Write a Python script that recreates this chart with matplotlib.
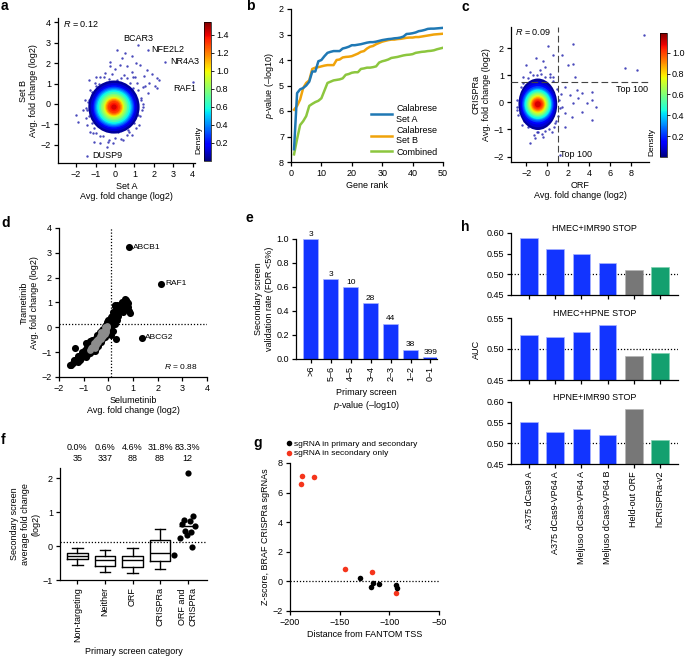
import numpy as np
import matplotlib
matplotlib.use("Agg")
import matplotlib.pyplot as plt
from matplotlib.patches import Ellipse
from matplotlib.cm import ScalarMappable
from matplotlib.colors import Normalize

plt.rcParams['font.family'] = ['Liberation Sans', 'DejaVu Sans']
plt.rcParams['font.size'] = 6.5
plt.rcParams['mathtext.fontset'] = 'custom'
plt.rcParams['mathtext.it'] = 'Liberation Sans:italic'
plt.rcParams['mathtext.rm'] = 'Liberation Sans'
plt.rcParams['axes.linewidth'] = 0.9
plt.rcParams['xtick.major.width'] = 0.9
plt.rcParams['ytick.major.width'] = 0.9
plt.rcParams['xtick.major.size'] = 3
plt.rcParams['ytick.major.size'] = 3
plt.rcParams['xtick.major.pad'] = 2
plt.rcParams['ytick.major.pad'] = 2
plt.rcParams['axes.labelpad'] = 2

# ---------------- data ----------------
# a: Set A vs Set B (sparse points + density core rings)
a_x = [0.12, 0.51, -0.26, 0.34, 0.86, 1.08, 1.29, 1.63, 1.49, 1.89, 2.14, 2.28, 2.06, 2.14, 1.77,
       1.46, 1.72, 1.32, 1.46, 1.2, 1.25, 0.86, 0.43, -0.09, -0.34, -0.77, -1.11, -1.29, -1.42, -1.49,
       -1.89, -2.0, -1.42, -1.32, -1.29, -1.03, -0.77, -0.51, -0.26, 0.0, 0.26, 0.6, 0.86, 1.03, 1.11,
       -0.77, -1.08, -0.43, 0.17, 0.69, -1.32, -1.66, -0.98, 0.94, -1.54, 0.6, 0.09,
       1.35, 1.3, 1.1, 0.6, 0.0, -0.6, -1.1, -1.35, -1.4, -1.2, -0.8, -0.3, 0.3, 0.8, 1.2,
       1.0, -0.95, -1.5, 0.45, -0.55, 1.45, 0.3, -0.3, 1.55, 0.95, -1.2, -1.0, 0.7, 1.4, -0.15,
       1.2, 1.68, 2.6, 4.0, -1.42]
a_y = [2.62, 2.49, 2.08, 2.25, 2.33, 2.03, 1.92, 1.67, 1.38, 1.48, 1.26, 1.18, 0.89, 0.77, 1.05,
       0.82, 0.52, 0.2, -0.13, -0.54, -1.03, -1.52, -1.77, -1.9, -1.85, -1.57, -1.44, -1.36, -1.03, -0.7,
       -0.87, -0.54, -0.3, 0.2, 0.69, 1.02, 1.31, 1.51, 1.84, 1.7, 1.92, 1.84, 1.59, 1.34, 1.02,
       -1.93, -1.85, -2.1, -1.36, -1.28, 1.18, -0.3, 1.34, 0.77, 0.2, 1.26, 1.18,
       0.3, -0.6, -1.2, -1.5, -1.65, -1.55, -1.2, -0.6, 0.1, 0.6, 1.0, 1.2, 1.25, 1.05, 0.7,
       -0.95, -1.4, -0.2, 1.4, 1.3, 0.0, -1.7, -1.75, 0.9, 1.3, -0.95, 0.9, -1.35, -0.3, 1.45,
       2.87, 2.62, 2.05, 1.07, -2.56]
a_genes = ['BCAR3', 'NFE2L2', 'NR4A3', 'RAF1', 'DUSP9']
a_center = (-0.05, -0.15)
a_levels = [0.04, 0.12, 0.2, 0.3, 0.38, 0.47, 0.57, 0.67, 0.77, 0.86, 0.95, 1.05, 1.15, 1.23, 1.3, 1.36, 1.42]
a_rx = [1.32, 1.2, 1.1, 1.04, 0.98, 0.92, 0.86, 0.77, 0.68, 0.6, 0.52, 0.47, 0.42, 0.36, 0.31, 0.22, 0.14]
a_ry = [1.30, 1.18, 1.08, 1.0, 0.94, 0.88, 0.82, 0.74, 0.65, 0.58, 0.5, 0.45, 0.4, 0.35, 0.3, 0.21, 0.13]

# b: top-50 gene p-values
rank = list(range(1, 51))
set_a = [7.5, 5.3, 5.15, 5.1, 5.0, 4.85, 4.45, 4.45, 4.05, 4.0, 3.85, 3.72, 3.68, 3.65, 3.65, 3.65,
         3.55, 3.52, 3.48, 3.42, 3.42, 3.4, 3.38, 3.35, 3.32, 3.3, 3.3, 3.28, 3.25, 3.22, 3.2, 3.18,
         3.17, 3.15, 3.14, 3.12, 3.08, 2.98, 2.97, 2.95, 2.92, 2.87, 2.85, 2.82, 2.78, 2.77, 2.77,
         2.76, 2.75, 2.74]
set_b = [5.95, 5.8, 5.55, 5.1, 4.9, 4.8, 4.35, 4.3, 4.28, 4.25, 4.22, 4.2, 4.2, 4.2, 4.0, 3.98,
         3.9, 3.88, 3.87, 3.85, 3.8, 3.75, 3.68, 3.65, 3.55, 3.48, 3.45, 3.38, 3.33, 3.28, 3.25, 3.22,
         3.2, 3.2, 3.18, 3.17, 3.15, 3.13, 3.12, 3.12, 3.1, 3.1, 3.08, 3.06, 3.04, 3.02, 3.0, 2.99,
         2.98, 2.97]
combined = [7.7, 7.1, 6.55, 6.4, 6.2, 5.8, 5.72, 5.65, 5.6, 5.5, 5.2, 4.9, 4.85, 4.8, 4.78, 4.76,
            4.72, 4.58, 4.55, 4.5, 4.48, 4.48, 4.35, 4.33, 4.3, 4.3, 4.28, 4.25, 4.1, 4.05, 4.02, 3.98,
            3.92, 3.9, 3.88, 3.85, 3.82, 3.8, 3.79, 3.77, 3.72, 3.7, 3.68, 3.67, 3.65, 3.64, 3.62, 3.58,
            3.55, 3.52]

# c: ORF vs CRISPRa
c_x = [0.1, 2.48, 1.37, 2.0, 2.48, 0.51, -0.38, -1.08, -2.03, 7.4, 8.6, 2.63, 1.68, 2.79, 3.27,
       4.29, 4.22, 4.63, 3.75, 2.48, 2.95, 2.16, 3.27, 4.22, 2.32, 1.68, 1.37, 0.57, -0.7, -1.65,
       -2.29, 0.25, -0.22, 9.25, 1.2, 1.68, -1.65, -1.17, -0.86, -2.44, -2.76, -2.92, -2.44, -1.97,
       -0.38, 0.41, 0.73,
       1.1, 1.0, 0.6, -0.2, -1.0, -1.8, -2.6, -2.85, -2.5, -1.8, -1.0, -0.2, 0.5, 0.9, 1.2, -2.2,
       -0.5, 0.2, -1.4, -2.9, 0.3, -0.6, 1.3, -2.3, -1.3, 0.8]
c_y = [2.07, 2.14, 1.74, 1.37, 1.41, 1.74, 1.53, 1.65, 1.37, 1.27, 1.21, 0.94, 0.55, 0.45, 0.35,
       0.39, 0.09, -0.16, -0.01, -0.04, 0.15, 0.27, -0.34, -0.65, -0.53, -0.4, -0.16, 0.94, 1.19, 1.13,
       0.94, 1.06, 1.31, 2.5, -1.96, -0.9, -1.5, -1.32, -1.08, -0.83, -0.47, -0.16, 0.21, 0.51,
       -1.26, -1.08, -0.77,
       0.1, -0.5, -0.9, -1.05, -1.1, -0.9, -0.4, 0.1, 0.55, 0.9, 1.0, 0.95, 0.8, 0.5, -0.2, -0.7,
       -1.15, -1.0, 1.0, -0.3, 0.95, 1.05, 0.3, 0.7, -1.2, -0.7]
c_center = (-0.9, -0.07)
c_levels = [0.03, 0.09, 0.15, 0.23, 0.29, 0.36, 0.44, 0.52, 0.6, 0.66, 0.73, 0.81, 0.89, 0.95, 1.0, 1.05, 1.1]
c_rx = [1.85, 1.72, 1.6, 1.5, 1.4, 1.32, 1.25, 1.12, 1.0, 0.9, 0.8, 0.72, 0.64, 0.56, 0.48, 0.38, 0.28]
c_ry = [0.95, 0.85, 0.75, 0.67, 0.61, 0.57, 0.54, 0.48, 0.43, 0.39, 0.34, 0.3, 0.26, 0.22, 0.19, 0.15, 0.11]

# d: Selumetinib vs Trametinib
d_x = [-1.56, -1.45, -1.38, -1.36, -1.3, -1.25, -1.2, -1.15, -1.1, -1.05, -1.0, -0.95, -0.92, -0.88,
       -0.85, -0.8, -0.78, -0.75, -0.7, -0.65, -0.6, -0.55, -0.5, -0.45, -0.4, -0.35, -0.3, -0.25,
       -0.2, -0.15, -0.1, -0.05, 0.0, 0.05, 0.1, 0.12, 0.15, 0.2, 0.22, 0.25, 0.3, 0.3, 0.35, 0.4,
       0.45, 0.5, 0.55, 0.6, 0.65, 0.68, 0.72, 0.8, 0.82, 0.89, 0.35, 0.2, 0.1, -0.55, -0.9,
       -1.5, -1.4, -1.25, -1.15, -1.05, -0.95, -0.9, -0.85, -0.8, -0.75, -0.7, -0.65, -0.6, -0.55,
       -0.5, -0.45, -0.4, -0.35, -0.3, -0.25, -0.2, -0.15, -0.1, -0.05, 0.0, 0.05, 0.1, 0.15, 0.2,
       0.25, 0.3, 0.28, 0.4, 0.5, 0.55, 0.6, 0.7, 0.75, 0.8,
       0.85, 2.15, 1.38]
d_y = [-1.52, -1.45, -1.35, -0.85, -1.3, -1.4, -1.2, -1.15, -1.25, -1.0, -1.1, -0.9, -1.2, -0.8,
       -1.0, -0.75, -0.95, -0.55, -0.85, -0.5, -0.7, -0.45, -0.6, -0.3, -0.5, -0.2, -0.35, -0.1,
       -0.25, 0.05, -0.05, 0.2, 0.15, 0.25, 0.0, 0.3, 0.45, 0.6, 0.2, 0.85, 0.5, 0.75, 0.9, 0.65,
       0.6, 0.95, 0.8, 0.6, 0.9, 1.13, 1.1, 0.97, 0.65, 0.56, 0.3, -0.15, -0.3, -0.95, -0.65,
       -1.5, -1.3, -1.15, -1.3, -1.15, -1.05, -0.9, -1.1, -0.85, -1.05, -0.6, -0.95, -0.5, -0.6,
       -0.85, -0.4, -0.75, -0.3, -0.6, -0.45, -0.05, -0.4, 0.1, -0.2, 0.3, 0.1, 0.4, 0.2, 0.35,
       0.15, -0.45, 0.9, 0.45, 0.7, 1.0, 0.85, 0.75, 1.0, 0.8,
       3.22, 1.75, -0.42]
d_gx = [-0.75, -0.65, -0.6, -0.5, -0.45, -0.4, -0.35, -0.3, -0.25, -0.2, -0.15, -0.1, -0.07, -0.55,
        -0.3, -0.12, -0.7, -0.6, -0.5, -0.4, -0.3, -0.2, -0.1, -0.05, -0.45, -0.25, -0.15, -0.55]
d_gy = [-0.92, -0.8, -0.65, -0.7, -0.5, -0.6, -0.35, -0.45, -0.25, -0.35, -0.1, -0.2, 0.05, -0.85,
        -0.2, 0.0, -0.85, -0.75, -0.55, -0.45, -0.3, -0.2, -0.1, 0.0, -0.65, -0.4, -0.25, -0.75]
d_genes = ['ABCB1', 'RAF1', 'ABCG2']

# e: validation rate
e_cats = ['>6', '5\u20136', '4\u20135', '3\u20134', '2\u20133', '1\u20132', '0\u20131']
e_rate = [1.0, 0.667, 0.6, 0.464, 0.295, 0.079, 0.013]
e_n = [3, 3, 10, 28, 44, 38, 399]

# f: secondary screen fold change
f_cats = ['Non-targeting', 'Neither', 'ORF', 'CRISPRa', 'ORF and\nCRISPRa']
f_pct = ['0.0%', '0.6%', '4.6%', '31.8%', '83.3%']
f_n = [35, 337, 88, 88, 12]
f_lo = [-0.56, -0.77, -0.8, -0.68]
f_q1 = [-0.38, -0.59, -0.61, -0.44]
f_med = [-0.29, -0.41, -0.41, -0.19]
f_q3 = [-0.2, -0.29, -0.28, 0.18]
f_hi = [-0.07, -0.12, -0.07, 0.5]
f_both = [2.16, 0.88, 0.78, 0.75, 0.66, 0.6, 0.45, 0.4, 0.32, 0.25, -0.04, -0.26]

# g: BRAF sgRNAs
g_both_x = [-129.1, -118.4, -116.4, -110.4, -93.0, -92.0]
g_both_y = [0.2, -0.38, -0.14, -0.2, -0.25, -0.45]
g_sec_x = [-189.0, -187.6, -175.6, -144.8, -117.4, -93.6]
g_sec_y = [6.6, 7.14, 7.05, 0.84, 0.63, -0.77]

# h: AUC
h_cats = ['A375 dCas9 A', 'A375 dCas9-VP64 A', 'Meljuso dCas9-VP64 A',
          'Meljuso dCas9-VP64 B', 'Held-out ORF', 'hCRISPRa-v2']
h_titles = ['HMEC+IMR90 STOP', 'HMEC+HPNE STOP', 'HPNE+IMR90 STOP']
h_auc = [[0.588, 0.561, 0.55, 0.528, 0.511, 0.518],
         [0.5225, 0.519, 0.527, 0.539, 0.489, 0.494],
         [0.551, 0.528, 0.535, 0.521, 0.582, 0.507]]

# ---------------- figure ----------------
W, H = 685, 666
fig = plt.figure(figsize=(6.85, 6.66), dpi=100)


def add_ax(l, t, r, b):
    ax = fig.add_axes([l / W, 1 - b / H, (r - l) / W, (b - t) / H])
    ax.spines['top'].set_visible(False)
    ax.spines['right'].set_visible(False)
    return ax


def letter(x, y, s):
    fig.text(x / W, 1 - y / H, s, fontsize=10, fontweight='bold', ha='left', va='center')


jet = plt.get_cmap('jet')
dot_blue = '#2a2ab0'

# --- a ---
ax = add_ax(58, 18, 195, 163)
norm_a = Normalize(0, 1.54)
ax.scatter(a_x, a_y, s=3, color=dot_blue, alpha=0.85, lw=0, zorder=2)
for lev, rx, ry in zip(a_levels, a_rx, a_ry):
    ax.add_patch(Ellipse(a_center, 2 * rx, 2 * ry, angle=0, color=jet(norm_a(lev)), lw=0, zorder=3))
ax.set_xlim(-2.93, 4.12)
ax.set_ylim(-2.89, 4.21)
ax.set_xticks(range(-2, 5))
ax.set_yticks(range(-2, 5))
ax.set_xticklabels(['\u22122', '\u22121', '0', '1', '2', '3', '4'])
ax.set_yticklabels(['\u22122', '\u22121', '0', '1', '2', '3', '4'])
ax.set_xlabel('Set A\nAvg. fold change (log2)')
ax.set_ylabel('Set B\nAvg. fold change (log2)')
ax.text(-2.65, 3.9, '$\\it{R}$ = 0.12', va='center')
ax.text(1.22, 3.0, a_genes[0], ha='center', va='bottom')
ax.text(1.89, 2.67, a_genes[1], ha='left', va='center')
ax.text(2.83, 2.06, a_genes[2], ha='left', va='center')
ax.text(3.57, 0.75, a_genes[3], ha='center', va='center')
ax.text(-1.17, -2.52, a_genes[4], ha='left', va='center')
cax = fig.add_axes([204 / W, 1 - 161 / H, 7 / W, 139 / H])
cb = fig.colorbar(ScalarMappable(norm_a, jet), cax=cax)
cb.set_ticks([0.2, 0.4, 0.6, 0.8, 1.0, 1.2, 1.4])
cb.outline.set_linewidth(0.5)
cax.tick_params(length=2, width=0.6, pad=1.5)
fig.text(198.5 / W, 1 - 140 / H, 'Density', rotation=90, ha='center', va='center', fontsize=6)
letter(1, 6, 'a')

# --- b ---
ax = add_ax(291, 9, 443, 162)
ax.plot(rank, set_a, color='#1f78b4', lw=1.8, label='Calabrese\nSet A', zorder=3)
ax.plot(rank, set_b, color='#f0a30a', lw=1.8, label='Calabrese\nSet B', zorder=2)
ax.plot(rank, combined, color='#8cc63e', lw=1.8, label='Combined', zorder=1)
ax.set_xlim(0, 50)
ax.set_ylim(8, 2)
ax.set_xticks(range(0, 51, 10))
ax.set_yticks(range(2, 9))
ax.set_xlabel('Gene rank')
ax.set_ylabel('$\\it{p}$-value (\u2013log10)')
ax.legend(loc='lower right', frameon=False, fontsize=6.5, handlelength=2.3, labelspacing=0.25,
          borderaxespad=0.2, handletextpad=0.5)
letter(246, 6, 'b')

# --- c ---
ax = add_ax(511, 27, 649, 162)
norm_c = Normalize(0, 1.19)
ax.scatter(c_x, c_y, s=3, color=dot_blue, alpha=0.85, lw=0, zorder=2)
for lev, rx, ry in zip(c_levels, c_rx, c_ry):
    ax.add_patch(Ellipse(c_center, 2 * rx, 2 * ry, color=jet(norm_c(lev)), lw=0, zorder=3))
ax.axvline(1.03, color='#444444', lw=0.8, dashes=(6, 3), zorder=4)
ax.axhline(0.76, color='#444444', lw=0.8, dashes=(6, 3), zorder=4)
ax.set_xlim(-3.46, 9.7)
ax.set_ylim(-2.2, 2.78)
ax.set_xticks(range(-2, 9, 2))
ax.set_xticklabels(['\u22122', '0', '2', '4', '6', '8'])
ax.set_yticks([-2, -1, 0, 1, 2])
ax.set_yticklabels(['\u22122', '\u22121', '0', '1', '2'])
ax.set_xlabel('ORF\nAvg. fold change (log2)')
ax.set_ylabel('CRISPRa\nAvg. fold change (log2)')
ax.text(-3.1, 2.6, '$\\it{R}$ = 0.09', va='center')
ax.text(9.6, 0.48, 'Top 100', ha='right', va='center')
ax.text(1.25, -1.93, 'Top 100', ha='left', va='center')
cax = fig.add_axes([660 / W, 1 - 157 / H, 7 / W, 124 / H])
cb = fig.colorbar(ScalarMappable(norm_c, jet), cax=cax)
cb.set_ticks([0.2, 0.4, 0.6, 0.8, 1.0])
cb.outline.set_linewidth(0.5)
cax.tick_params(length=2, width=0.6, pad=1.5)
fig.text(651.5 / W, 1 - 141.5 / H, 'Density', rotation=90, ha='center', va='center', fontsize=6)
letter(461, 7, 'c')

# --- d ---
ax = add_ax(59, 228, 207, 377)
ax.axvline(0.1, color='black', lw=0.9, ls=(0, (1, 1.5)), zorder=1)
ax.axhline(0.12, color='black', lw=0.9, ls=(0, (1, 1.5)), zorder=1)
ax.scatter(d_x, d_y, s=26, color='black', lw=0, zorder=2)
ax.scatter(d_gx, d_gy, s=24, color='#8c8c8c', lw=0, zorder=3)
ax.text(0.98, 3.22, d_genes[0], va='center', fontsize=6)
ax.text(2.3, 1.75, d_genes[1], va='center', fontsize=6)
ax.text(1.5, -0.42, d_genes[2], va='center', fontsize=6)
ax.text(3.6, -1.58, '$\\it{R}$ = 0.88', ha='right', va='center', fontsize=6)
ax.set_xlim(-2, 4)
ax.set_ylim(-2, 4)
ax.set_xticks(range(-2, 5))
ax.set_xticklabels(['\u22122', '\u22121', '0', '1', '2', '3', '4'])
ax.set_yticks(range(-2, 5))
ax.set_yticklabels(['\u22122', '\u22121', '0', '1', '2', '3', '4'])
ax.set_xlabel('Selumetinib\nAvg. fold change (log2)')
ax.set_ylabel('Trametinib\nAvg. fold change (log2)')
letter(1, 223, 'd')

# --- e ---
ax = add_ax(296, 239, 437, 359)
xe = np.arange(len(e_cats))
ax.bar(xe, e_rate, width=0.75, color='#1234ff', edgecolor='#a8b4ff', lw=0.5)
for xi, r, n in zip(xe, e_rate, e_n):
    ax.text(xi, r + 0.01, str(n), ha='center', va='bottom', fontsize=6)
ax.set_xlim(-0.75, 6.33)
ax.set_ylim(0, 1.0)
ax.set_xticks(xe)
ax.set_xticklabels(e_cats, rotation=90)
ax.set_yticks([0.0, 0.2, 0.4, 0.6, 0.8, 1.0])
ax.set_yticklabels(['0.0', '0.2', '0.4', '0.6', '0.8', '1.0'])
ax.set_xlabel('Primary screen\n$\\it{p}$-value (\u2013log10)', labelpad=5)
ax.set_ylabel('Secondary screen\nvalidation rate (FDR <5%)')
letter(246, 218, 'e')

# --- f ---
ax = add_ax(60, 468, 207, 580)
stats = [dict(whislo=lo, q1=q1, med=m, q3=q3, whishi=hi, fliers=[])
         for lo, q1, m, q3, hi in zip(f_lo, f_q1, f_med, f_q3, f_hi)]
bp_style = dict(color='black', lw=1.0)
ax.bxp(stats, positions=range(4), widths=0.75, showfliers=False,
       boxprops=bp_style, whiskerprops=bp_style, capprops=bp_style,
       medianprops=bp_style, manage_ticks=False)
jitter = [0.02, 0.18, -0.12, 0.08, -0.2, 0.25, -0.1, 0.12, -0.02, -0.28, 0.15, -0.48]
ax.scatter([4 + j for j in jitter], f_both, s=20, color='black', lw=0, zorder=3)
ax.hlines(np.mean(f_both), 3.7, 4.3, color='black', lw=1.0, zorder=4)
ax.axhline(0.12, color='black', lw=0.9, ls=(0, (1, 1.5)), zorder=1)
ax.set_xlim(-0.63, 4.7)
ax.set_ylim(-1, 2.3)
ax.set_xticks(range(5))
ax.set_xticklabels(f_cats, rotation=90)
ax.set_yticks([-1, 0, 1, 2])
ax.set_yticklabels(['\u22121', '0', '1', '2'])
ax.set_xlabel('Primary screen category', labelpad=4)
ax.set_ylabel('Secondary screen\naverage fold change\n(log2)')
tr = ax.get_xaxis_transform()
for i, (p, n) in enumerate(zip(f_pct, f_n)):
    ax.text(i, 1 + 20 / 112, p, transform=tr, ha='center', va='center', fontsize=6.5)
    ax.text(i, 1 + 10 / 112, str(n), transform=tr, ha='center', va='center', fontsize=6.5)
letter(1, 440, 'f')

# --- g ---
ax = add_ax(290, 463, 439, 611)
ax.axhline(0, color='black', lw=0.9, ls=(0, (1, 1.5)), zorder=1)
hb = ax.scatter(g_both_x, g_both_y, s=16, color='black', lw=0, zorder=3,
                label='sgRNA in primary and secondary')
hs = ax.scatter(g_sec_x, g_sec_y, s=16, color='#f5351c', lw=0, zorder=2,
                label='sgRNA in secondary only')
ax.set_xlim(-200, -50)
ax.set_ylim(-2, 8)
ax.set_xticks([-200, -150, -100, -50])
ax.set_xticklabels(['\u2212200', '\u2212150', '\u2212100', '\u221250'])
ax.set_yticks([-2, 0, 2, 4, 6, 8])
ax.set_yticklabels(['\u22122', '0', '2', '4', '6', '8'])
ax.set_xlabel('Distance from FANTOM TSS')
ax.set_ylabel('Z-score, BRAF CRISPRa sgRNAs')
fig.legend(handles=[hb, hs], loc='center left', bbox_to_anchor=(286 / W, 1 - 448.5 / H),
           frameon=False, fontsize=6, handlelength=0.6, handletextpad=0.3, labelspacing=0.2,
           borderpad=0, borderaxespad=0)
letter(253, 443, 'g')

# --- h ---
h_boxes = [(511, 233, 678, 295), (511, 318, 678, 380), (511, 402, 678, 464)]
h_lims = [(0.45, 0.60), (0.45, 0.55), (0.45, 0.60)]
h_colors = ['#1234ff'] * 4 + ['#777777', '#13a06f']
h_edges = ['#a8b4ff'] * 4 + ['#b5b5b5', '#7fd1b0']
xh = np.arange(len(h_cats))
for k, (box, lim, vals, title) in enumerate(zip(h_boxes, h_lims, h_auc, h_titles)):
    ax = add_ax(*box)
    ax.axhline(0.5, color='black', lw=0.9, ls=(0, (1, 1.5)), zorder=1)
    ax.bar(xh, [v - lim[0] for v in vals], bottom=lim[0], width=0.68, color=h_colors,
           edgecolor=h_edges, lw=0.5, zorder=2)
    ax.set_xlim(-0.69, 5.69)
    ax.set_ylim(*lim)
    ticks = np.arange(lim[0], lim[1] + 0.001, 0.05)
    ax.set_yticks(ticks)
    ax.set_yticklabels(['%.2f' % t for t in ticks])
    ax.set_xticks(xh)
    ax.set_title(title, fontsize=6.5, pad=1)
    if k == 2:
        ax.set_xticklabels(h_cats, rotation=90)
    else:
        ax.set_xticklabels([])
    if k == 1:
        ax.set_ylabel('AUC', labelpad=4)
letter(461, 227, 'h')

fig.savefig('out.png', dpi=100)
